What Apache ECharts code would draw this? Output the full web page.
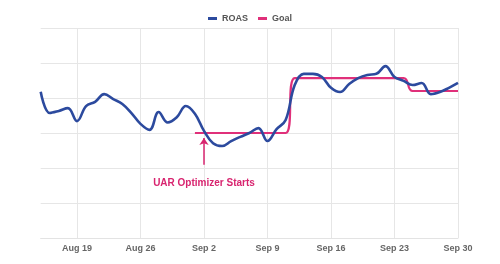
<!DOCTYPE html>
<html>
<head>
<meta charset="utf-8">
<script src="https://cdn.jsdelivr.net/npm/echarts@6/dist/echarts.min.js"></script>
<style>html,body{margin:0;padding:0;background:#fff}#c{width:500px;height:264px}</style>
</head>
<body>
<div id="c"></div>
<script>
// Dates Aug 15 .. Sep 30
var dates = [
  'Aug 15','Aug 16','Aug 17','Aug 18','Aug 19','Aug 20','Aug 21','Aug 22','Aug 23','Aug 24',
  'Aug 25','Aug 26','Aug 27','Aug 28','Aug 29','Aug 30','Aug 31','Sep 1','Sep 2','Sep 3',
  'Sep 4','Sep 5','Sep 6','Sep 7','Sep 8','Sep 9','Sep 10','Sep 11','Sep 12','Sep 13',
  'Sep 14','Sep 15','Sep 16','Sep 17','Sep 18','Sep 19','Sep 20','Sep 21','Sep 22','Sep 23',
  'Sep 24','Sep 25','Sep 26','Sep 27','Sep 28','Sep 29','Sep 30'
];
var tickLabels = ['Aug 19','Aug 26','Sep 2','Sep 9','Sep 16','Sep 23','Sep 30'];
var roas = [
  4.18, 3.57, 3.63, 3.71, 3.34, 3.77, 3.89, 4.11, 3.97, 3.83,
  3.57, 3.26, 3.09, 3.60, 3.30, 3.45, 3.77, 3.55, 3.06, 2.71,
  2.63, 2.77, 2.89, 3.00, 3.14, 2.77, 3.11, 3.37, 4.37, 4.69,
  4.69, 4.60, 4.29, 4.17, 4.40, 4.57, 4.66, 4.69, 4.91, 4.60,
  4.49, 4.37, 4.43, 4.11, 4.17, 4.29, 4.43
];
var goal = [
  null, null, null, null, null, null, null, null, null, null,
  null, null, null, null, null, null, null, 3.0, 3.0, 3.0,
  3.0, 3.0, 3.0, 3.0, 3.0, 3.0, 3.0, 3.0, 4.57, 4.57,
  4.57, 4.57, 4.57, 4.57, 4.57, 4.57, 4.57, 4.57, 4.57, 4.57,
  4.57, 4.2, 4.2, 4.2, 4.2, 4.2, 4.2
];
var annotationText = 'UAR Optimizer Starts';
var annotationDate = 'Sep 2';

var chart = echarts.init(document.getElementById('c'), null, {renderer: 'canvas'});
var showTick = function (idx, val) { return tickLabels.indexOf(dates[idx]) >= 0; };
chart.setOption({
  animation: false,
  backgroundColor: '#fff',
  legend: {
    top: 9, left: 'center', itemWidth: 9, itemHeight: 3, itemGap: 10,
    icon: 'rect',
    textStyle: {fontFamily: 'Liberation Sans', fontSize: 9, fontWeight: 'bold', color: '#555'},
    data: ['ROAS', 'Goal']
  },
  grid: {left: 40.7, right: 42, top: 28, bottom: 26, containLabel: false},
  xAxis: {
    type: 'category', data: dates, boundaryGap: false,
    axisLine: {show: true, lineStyle: {color: '#e3e3e3', width: 1}},
    axisTick: {show: false},
    axisLabel: {interval: showTick, color: '#666', fontFamily: 'Liberation Sans', fontSize: 9, fontWeight: 'bold', margin: 6},
    splitLine: {show: true, interval: showTick, lineStyle: {color: '#e6e6e6', width: 1}}
  },
  yAxis: {
    type: 'value', min: 0, max: 6, interval: 1,
    axisLine: {show: false}, axisTick: {show: false}, axisLabel: {show: false},
    splitLine: {show: true, lineStyle: {color: '#e6e6e6', width: 1}}
  },
  series: [
    {
      name: 'ROAS', type: 'line', data: roas, smooth: 0.4, symbol: 'none',
      lineStyle: {color: '#2c4a9e', width: 2.6}, itemStyle: {color: '#2c4a9e'}, z: 3
    },
    {
      name: 'Goal', type: 'line', data: goal, smooth: 0.55, symbol: 'none', connectNulls: false,
      lineStyle: {color: '#e0307a', width: 2.2}, itemStyle: {color: '#e0307a'}, z: 2,
      markLine: {
        silent: true, z: 10,
        lineStyle: {color: '#d8246f', width: 1.5, type: 'solid'},
        label: {show: false},
        data: [[
          {coord: [annotationDate, 2.09], symbol: 'none', symbolSize: 0},
          {coord: [annotationDate, 2.86], symbol: 'arrow', symbolSize: [7, 7]}
        ]]
      },
      markPoint: {
        silent: true, symbol: 'circle', symbolSize: 1, itemStyle: {color: 'rgba(0,0,0,0)'},
        label: {show: true, position: 'inside', formatter: annotationText, color: '#d8246f',
          fontFamily: 'Liberation Sans', fontSize: 10, fontWeight: 'bold'},
        data: [{coord: [annotationDate, 1.57]}]
      }
    }
  ]
});
</script>
</body>
</html>
